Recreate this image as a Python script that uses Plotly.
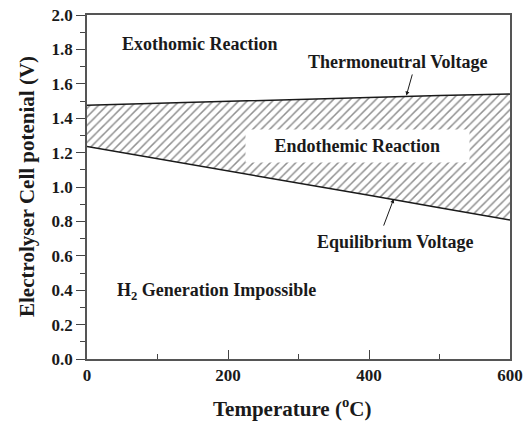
import plotly.graph_objects as go

temperature = [0, 100, 200, 300, 400, 500, 600]
thermoneutral = [1.475, 1.487, 1.499, 1.511, 1.522, 1.532, 1.540]
equilibrium = [1.235, 1.165, 1.095, 1.025, 0.952, 0.880, 0.808]
x_ticks = [0, 200, 400, 600]
y_ticks = [0, 0.2, 0.4, 0.6, 0.8, 1.0, 1.2, 1.4, 1.6, 1.8, 2.0]
y_ticktext = ["0.0", "0.2", "0.4", "0.6", "0.8", "1.0", "1.2", "1.4", "1.6", "1.8", "2.0"]

FONT = "Liberation Serif"
INK = "#1a1a1a"
fig = go.Figure()
fig.add_trace(go.Scatter(x=temperature, y=equilibrium, mode="lines",
                         line=dict(color=INK, width=1.5), showlegend=False))
fig.add_trace(go.Scatter(x=temperature, y=thermoneutral, mode="lines",
                         line=dict(color=INK, width=1.5), fill="tonexty",
                         fillcolor="rgba(0,0,0,0)",
                         fillpattern=dict(shape="/", size=6, solidity=0.25,
                                          fgcolor="#222", bgcolor="white"),
                         showlegend=False))

tf = dict(family=FONT, size=18, color=INK)
pad = "&nbsp;" * 5
anns = [
    dict(x=160, y=1.83, text="<b>Exothomic Reaction</b>"),
    dict(x=441, y=1.727, text="<b>Thermoneutral Voltage</b>"),
    dict(x=383, y=1.238, text=pad + "<b>Endothemic Reaction</b>" + pad,
         bgcolor="white", borderpad=6),
    dict(x=437, y=0.68, text="<b>Equilibrium Voltage</b>"),
    dict(x=184, y=0.39, text="<b>H<sub>2</sub> Generation Impossible</b>"),
]
for a in anns:
    fig.add_annotation(**a, showarrow=False, font=tf, xref="x", yref="y")

# arrows
fig.add_annotation(x=453, y=1.532, ax=462, ay=1.663, xref="x", yref="y",
                   axref="x", ayref="y", text="", showarrow=True,
                   arrowhead=2, arrowsize=0.8, arrowwidth=1, arrowcolor=INK)
fig.add_annotation(x=435, y=0.93, ax=420, ay=0.767, xref="x", yref="y",
                   axref="x", ayref="y", text="", showarrow=True,
                   arrowhead=2, arrowsize=0.8, arrowwidth=1, arrowcolor=INK)

# axis titles
fig.add_annotation(x=-0.1418, y=0.5, xref="paper", yref="paper", showarrow=False,
                   text="<b>Electrolyser Cell potenial (V)</b>", textangle=-90,
                   xanchor="center", yanchor="middle",
                   font=dict(family=FONT, size=21, color=INK))
fig.add_annotation(x=0.485, y=-0.1424, xref="paper", yref="paper", showarrow=False,
                   text="<b>Temperature (<sup>o</sup>C)</b>",
                   xanchor="center", yanchor="middle",
                   font=dict(family=FONT, size=21, color=INK))

fig.update_layout(
    width=523, height=413,
    margin=dict(l=79, r=21, t=7, b=62, autoexpand=False),
    plot_bgcolor="white", paper_bgcolor="white",
    font=dict(family=FONT, color=INK),
    xaxis=dict(range=[0, 600], tickvals=x_ticks, ticks="inside",
               ticklen=9, tickwidth=1.2, tickcolor="#444",
               minor=dict(tickvals=[100, 300, 500], ticks="inside", ticklen=5,
                          tickcolor="#444"),
               showline=True, linecolor="#555", linewidth=1.5, mirror=True,
               showgrid=False, zeroline=False, automargin=False,
               ticklabeloverflow="allow",
               tickfont=dict(family=FONT, size=17, color=INK, weight="bold")),
    yaxis=dict(range=[0, 2.0], tickvals=y_ticks, ticktext=y_ticktext,
               ticks="outside", ticklen=9, tickwidth=1.2, tickcolor="#444",
               minor=dict(dtick=0.1, ticks="outside", ticklen=5, tickcolor="#444"),
               showline=True, linecolor="#555", linewidth=1.5, mirror=True,
               showgrid=False, zeroline=False, automargin=False,
               ticklabeloverflow="allow",
               tickfont=dict(family=FONT, size=17, color=INK, weight="bold")),
)
fig.write_html("out.html")
